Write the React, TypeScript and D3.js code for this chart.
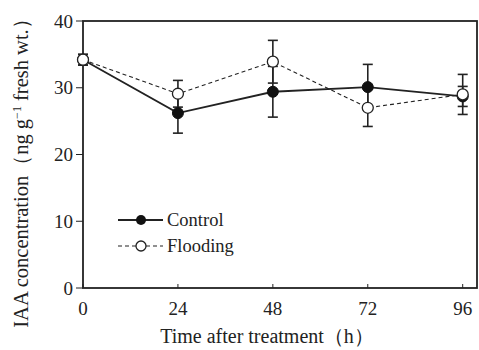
import React from "react";
import * as d3 from "d3";

const hours = [0, 24, 48, 72, 96];
const controlMean = [34.2, 26.2, 29.4, 30.1, 28.7];
const controlErr = [0.8, 3.0, 3.8, 3.4, 1.5];
const floodMean = [34.2, 29.1, 33.9, 27.0, 29.0];
const floodErr = [0.8, 2.0, 3.2, 2.8, 3.0];
const yTicks = [0, 10, 20, 30, 40];
const xTicks = [0, 24, 48, 72, 96];

const W = 479, H = 350;
const M = { left: 83, right: 477, top: 21, bottom: 288 };
const FONT = "'Liberation Serif'";
const ts = { fontFamily: FONT };

export default function App() {
  const x = d3.scaleLinear().domain([0, 96]).range([M.left, 462.7]);
  const y = d3.scaleLinear().domain([0, 40]).range([M.bottom, M.top]);
  const line = d3.line<number>().x((_, i) => x(hours[i])).y((d) => y(d));

  const errBars = (means: number[], errs: number[], key: string) =>
    means.map((m, i) => {
      const cx = x(hours[i]);
      const y1 = y(m + errs[i]);
      const y2 = y(m - errs[i]);
      return (
        <g key={key + i} stroke="#222" strokeWidth={1.6}>
          <line x1={cx} x2={cx} y1={y1} y2={y2} />
          <line x1={cx - 5} x2={cx + 5} y1={y1} y2={y1} />
          <line x1={cx - 5} x2={cx + 5} y1={y2} y2={y2} />
        </g>
      );
    });

  return (
    <div style={{ position: "fixed", left: 0, top: 0 }}>
      <svg width={W} height={H} style={{ display: "block", background: "#fff" }}>
        <rect x={0} y={0} width={W} height={H} fill="#fff" />
        <rect x={M.left} y={M.top} width={M.right - M.left} height={M.bottom - M.top} fill="none" stroke="#222" strokeWidth={1.8} />
        {yTicks.map((t) => (
          <g key={"y" + t}>
            <line x1={M.left - 7} x2={M.left} y1={y(t)} y2={y(t)} stroke="#222" strokeWidth={1} />
            <text style={ts} x={73} y={y(t)} dy="0.35em" textAnchor="end" fontSize={19} fill="#222">{t}</text>
          </g>
        ))}
        {xTicks.map((t) => (
          <g key={"x" + t}>
            <line x1={x(t)} x2={x(t)} y1={M.bottom} y2={M.bottom - 4} stroke="#222" strokeWidth={1} />
            <text style={ts} x={x(t)} y={315} textAnchor="middle" fontSize={19} fill="#222">{t}</text>
          </g>
        ))}
        <text style={ts} x={267} y={343} textAnchor="middle" fontSize={20} fill="#222">Time after treatment（h）</text>
        <text style={ts} transform={`translate(28,${168}) rotate(-90)`} textAnchor="middle" fontSize={20.5} fill="#222">
          IAA concentration（ng g<tspan dy={-7} fontSize={12}>−1</tspan><tspan dy={7}> fresh wt.）</tspan>
        </text>
        {errBars(controlMean, controlErr, "c")}
        {errBars(floodMean, floodErr, "f")}
        <path d={line(floodMean) || ""} fill="none" stroke="#222" strokeWidth={1.1} strokeDasharray="4,3" />
        <path d={line(controlMean) || ""} fill="none" stroke="#222" strokeWidth={1.8} />
        {controlMean.map((m, i) => (
          <circle key={"cc" + i} cx={x(hours[i])} cy={y(m)} r={5.5} fill="#111" stroke="#111" strokeWidth={1} />
        ))}
        {floodMean.map((m, i) => (
          <circle key={"fc" + i} cx={x(hours[i])} cy={y(m)} r={5.5} fill="#fff" stroke="#222" strokeWidth={1.3} />
        ))}
        <line x1={118} x2={163} y1={220} y2={220} stroke="#222" strokeWidth={1.8} />
        <circle cx={141} cy={220} r={5} fill="#111" />
        <text style={ts} x={167} y={220} dy="0.35em" fontSize={18.5} fill="#222">Control</text>
        <line x1={118} x2={163} y1={246} y2={246} stroke="#222" strokeWidth={1.1} strokeDasharray="4,3" />
        <circle cx={141} cy={246} r={5} fill="#fff" stroke="#222" strokeWidth={1.3} />
        <text style={ts} x={167} y={246} dy="0.35em" fontSize={18.5} fill="#222">Flooding</text>
      </svg>
    </div>
  );
}
